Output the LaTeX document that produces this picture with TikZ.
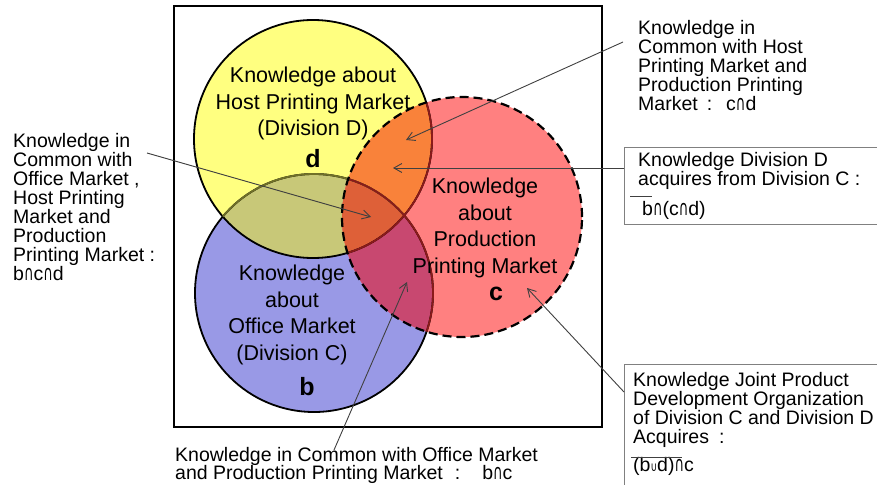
\documentclass[tikz,border=0pt]{standalone}
\usepackage{fontspec}
\usepackage{graphicx}
\setmainfont{Liberation Sans}
\newfontfamily\symfont{DejaVu Sans}
\newcommand{\myint}{\scalebox{0.62}[1]{\symfont\fontsize{21}{21}\selectfont ∩}}
\newcommand{\myuni}{\scalebox{0.7}[1]{\symfont\fontsize{13}{13}\selectfont ∪}}
\usetikzlibrary{arrows.meta}
\definecolor{yelC}{HTML}{FFFF80}
\definecolor{bluC}{HTML}{9999E6}
\definecolor{redC}{HTML}{FF8080}
\definecolor{oliveC}{HTML}{C8C878}
\definecolor{orangeC}{HTML}{F9823A}
\definecolor{magC}{HTML}{C84870}
\definecolor{tripC}{HTML}{DE6038}
\definecolor{olineC}{HTML}{707028}
\definecolor{rlineC}{HTML}{8B1A1A}
\definecolor{connC}{HTML}{404040}
\definecolor{boxC}{HTML}{808080}
\begin{document}
\begin{tikzpicture}[x=1pt,y=-1pt,
  circtext/.style={align=center, inner sep=0pt, anchor=north, font=\fontsize{21.5}{26.8}\selectfont},
  setletter/.style={inner sep=0pt, anchor=base, font=\fontsize{25}{30}\selectfont\bfseries},
  calltext/.style={align=left, inner sep=0pt, anchor=north west, font=\fontsize{19.5}{19}\selectfont},
  formula/.style={inner sep=0pt, anchor=base west, font=\fontsize{19.5}{19}\selectfont},
  conn/.style={draw=connC, line width=0.9pt, -{Straight Barb[length=8pt,width=9pt]}},
  calloutbox/.style={draw=boxC, line width=1.3pt, anchor=north west, inner sep=0pt},
  bar/.style={draw=connC, line width=0.9pt},
  outline/.style={line width=1.8pt}]
\useasboundingbox (0,0) rectangle (877,484);
\fill[white] (0,0) rectangle (877,484);

% centres
\coordinate (Y) at (313,139);
\coordinate (B) at (314,293);
\coordinate (R) at (462,217);

% frame
\draw[line width=2.6pt] (174,6) rectangle (602,427);

% fills
\fill[yelC] (Y) circle[radius=119pt];
\fill[bluC] (B) circle[radius=119pt];
\begin{scope}
  \clip (Y) circle[radius=119pt];
  \fill[oliveC] (B) circle[radius=119pt];
\end{scope}
\fill[redC] (R) circle[radius=120pt];
\begin{scope}
  \clip (R) circle[radius=120pt];
  \fill[orangeC] (Y) circle[radius=119pt];
  \fill[magC] (B) circle[radius=119pt];
  \begin{scope}
    \clip (Y) circle[radius=119pt];
    \fill[tripC] (B) circle[radius=119pt];
  \end{scope}
\end{scope}

% outlines
\draw[outline] (Y) circle[radius=119pt];
\draw[outline] (B) circle[radius=119pt];
\begin{scope}
  \clip (Y) circle[radius=119pt];
  \draw[outline, olineC] (B) circle[radius=119pt];
\end{scope}
\begin{scope}
  \clip (R) circle[radius=120pt];
  \draw[outline, rlineC] (Y) circle[radius=119pt];
  \draw[outline, rlineC] (B) circle[radius=119pt];
\end{scope}
\draw[line width=2.2pt, dash pattern=on 9pt off 5pt] (R) circle[radius=120pt];

% circle texts
\node[circtext] (ytext) at (313,66.5) {Knowledge about\\Host Printing Market\\(Division D)};
\node[setletter] (dlet) at (313,167) {d};
\node[circtext] (btext) at (292,264.5) {Knowledge\\about\\Office Market\\(Division C)};
\node[setletter] (blet) at (307,395) {b};
\node[circtext] (rtext) at (485,177.5) {Knowledge\\about\\Production\\Printing Market};
\node[setletter] (clet) at (496,300) {c};

% callouts
\node[calltext] (cdtext) at (638,20) {Knowledge in\\Common with Host\\Printing Market and\\Production Printing\\Market\hspace{9pt}:\hspace{14pt}c\myint d};
\node[calltext] (bcdtext) at (13,133) {Knowledge in\\Common with\\Office Market ,\\Host Printing\\Market and\\Production\\Printing Market :\\b\myint c\myint d};
\node[calltext, font=\fontsize{19.5}{18.5}\selectfont] (bctext) at (175,447) {Knowledge in Common with Office Market\\and Production Printing Market\hspace{12pt}:\hspace{22pt}b\myint c};

\node[calloutbox, minimum width=270pt, minimum height=77pt] (divBox) at (624,147) {};
\node[calltext] (divtext) at (638,152) {Knowledge Division D\\acquires from Division C :};
\node[formula] (divform) at (642,215) {b\myint(c\myint d)};
\draw[bar] (630,196) -- (652,196);

\node[calloutbox, minimum width=270pt, minimum height=140pt] (jointBox) at (624,364) {};
\node[calltext] (jointtext) at (633,372) {Knowledge Joint Product\\Development Organization\\of Division C and Division D\\Acquires\hspace{10pt}:};
\node[formula] (jointform) at (633,471) {(b\myuni d)\myint c};
\draw[bar] (631,457) -- (682,457);

% connector ends
\coordinate (cdFrom) at (623,42);
\coordinate (cdTip) at (406,140);
\coordinate (divTip) at (393,168);
\coordinate (bcdFrom) at (147,153);
\coordinate (bcdTip) at (371,217);
\coordinate (bcFrom) at (334,450);
\coordinate (bcTip) at (407,282);
\coordinate (jointFrom) at (624,392);
\coordinate (jointTip) at (527,288);

\draw[conn] (cdFrom) -- (cdTip);
\draw[conn] (divTip -| divBox.west) -- (divTip);
\draw[conn] (bcdFrom) -- (bcdTip);
\draw[conn] (bcFrom) -- (bcTip);
\draw[conn] (jointFrom) -- (jointTip);
\end{tikzpicture}
\end{document}
